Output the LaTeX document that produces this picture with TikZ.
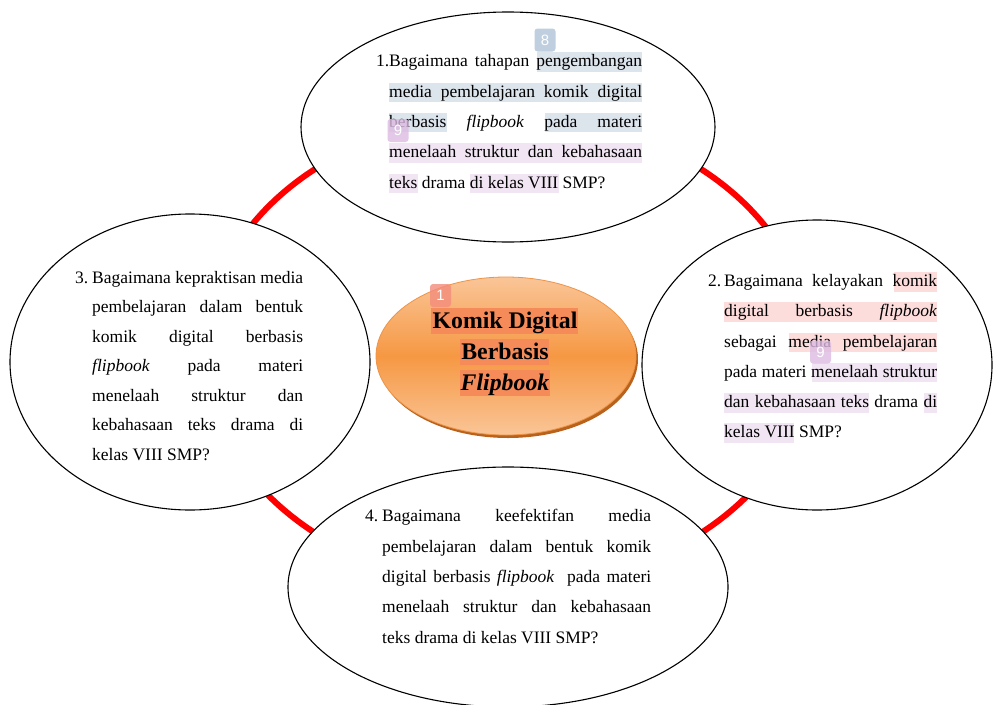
\documentclass[tikz,border=0pt]{standalone}
\usepackage{fontspec}
\setmainfont{Liberation Serif}
\newfontfamily\badgefont{Liberation Sans}
\usetikzlibrary{shapes.geometric}

\definecolor{ringred}{HTML}{FF0000}
\definecolor{hlblue}{HTML}{DCE4EC}
\definecolor{hllilac}{HTML}{F1E5F3}
\definecolor{hlrose}{HTML}{FDDCDC}
\definecolor{hlcore}{HTML}{F58B58}
\definecolor{badgeblue}{HTML}{AFC3D7}
\definecolor{badgelilac}{HTML}{DDBBE3}
\definecolor{badgered}{HTML}{F38C7C}
\definecolor{coreLight}{HTML}{FAC597}
\definecolor{coreMid}{HTML}{F69843}
\definecolor{coreEdge}{HTML}{EE9448}
\definecolor{coreShadow}{HTML}{B8621C}

% highlight strip behind a run of words: {colour}{x from}{x to}{baseline}
\newcommand{\hlrun}[4]{\fill[#1] (#2,#4-14.5) rectangle (#3,#4+5);}

\begin{document}
\begin{tikzpicture}[x=1pt,y=-1pt,
  bubble/.style={ellipse, draw=black, line width=1.1pt, fill=white, inner sep=0pt},
  qtext/.style={anchor=base west, inner sep=0pt, font=\fontsize{17.5}{21}\selectfont},
  coretext/.style={anchor=base, inner sep=0pt, font=\bfseries\fontsize{23.8}{28}\selectfont},
  badge/.style={rounded corners=3pt, fill=#1, fill opacity=0.8, text opacity=1,
    text=white, inner sep=0pt, minimum width=21pt, minimum height=23pt,
    font=\badgefont\fontsize{15}{15}\selectfont}]
\useasboundingbox (0,0) rectangle (993,704);

% red ring linking the four questions
\draw[ringred, line width=6pt] (508,351) ellipse [x radius=303, y radius=236];

% question bubbles
\node[bubble, minimum width=414pt, minimum height=230pt] (q1) at (508,127) {};
\node[bubble, minimum width=350pt, minimum height=290pt] (q2) at (817,365) {};
\node[bubble, minimum width=360pt, minimum height=296pt] (q3) at (190,362) {};
\node[bubble, minimum width=440pt, minimum height=240pt] (q4) at (508,587) {};

% central topic
\node[ellipse, fill=coreShadow, inner sep=0pt, minimum width=260pt, minimum height=158pt] (coreshadow) at (508,359) {};
\node[ellipse, draw=coreEdge, line width=0.8pt, top color=coreLight, bottom color=coreLight,
  middle color=coreMid, inner sep=0pt, minimum width=260pt, minimum height=158pt] (core) at (506,356) {};

% highlights, question 1
\hlrun{hlblue}{537}{642}{66.7}
\hlrun{hlblue}{389}{642}{97}
\hlrun{hlblue}{389}{447}{127.3}
\hlrun{hlblue}{545}{642}{127.3}
\hlrun{hllilac}{389}{642}{157.6}
\hlrun{hllilac}{389}{418}{188}
\hlrun{hllilac}{470}{559}{188}

% highlights, question 2
\hlrun{hlrose}{894}{937}{286.7}
\hlrun{hlrose}{724}{937}{316.9}
\hlrun{hlrose}{789}{937}{347.1}
\hlrun{hllilac}{812}{937}{377.3}
\hlrun{hllilac}{724}{869}{407.5}
\hlrun{hllilac}{924}{937}{407.5}
\hlrun{hllilac}{724}{794}{437.7}

% highlights, central topic
\fill[hlcore] (431,308) rectangle (578,334);
\fill[hlcore] (460,339) rectangle (549,365);
\fill[hlcore] (460,370) rectangle (550,396);

% question 1
\node[qtext] (q1a) at (376,66.7) {\makebox[13pt][l]{1.}\makebox[253pt][s]{Bagaimana tahapan pengembangan}};
\node[qtext] (q1b) at (389,97) {\makebox[253pt][s]{media pembelajaran komik digital}};
\node[qtext] (q1c) at (389,127.3) {\makebox[253pt][s]{berbasis \textit{flipbook} pada materi}};
\node[qtext] (q1d) at (389,157.6) {\makebox[253pt][s]{menelaah struktur dan kebahasaan}};
\node[qtext] (q1e) at (389,188) {teks drama di kelas VIII SMP?};

% question 2
\node[qtext] (q2a) at (708,286.7) {\makebox[16pt][l]{2.}\makebox[213pt][s]{Bagaimana kelayakan komik}};
\node[qtext] (q2b) at (724,316.9) {\makebox[213pt][s]{digital berbasis \textit{flipbook}}};
\node[qtext] (q2c) at (724,347.1) {\makebox[213pt][s]{sebagai media pembelajaran}};
\node[qtext] (q2d) at (724,377.3) {\makebox[213pt][s]{pada materi menelaah struktur}};
\node[qtext] (q2e) at (724,407.5) {\makebox[213pt][s]{dan kebahasaan teks drama di}};
\node[qtext] (q2f) at (724,437.7) {kelas VIII SMP?};

% question 3
\node[qtext] (q3a) at (75,283) {\makebox[17pt][l]{3.}\makebox[211pt][s]{Bagaimana kepraktisan media}};
\node[qtext] (q3b) at (92,312.5) {\makebox[211pt][s]{pembelajaran dalam bentuk}};
\node[qtext] (q3c) at (92,342) {\makebox[211pt][s]{komik digital berbasis}};
\node[qtext] (q3d) at (92,371.5) {\makebox[211pt][s]{\textit{flipbook} pada materi}};
\node[qtext] (q3e) at (92,401) {\makebox[211pt][s]{menelaah struktur dan}};
\node[qtext] (q3f) at (92,430.5) {\makebox[211pt][s]{kebahasaan teks drama di}};
\node[qtext] (q3g) at (92,460) {kelas VIII SMP?};

% question 4
\node[qtext] (q4a) at (365,521.7) {\makebox[17pt][l]{4.}\makebox[269pt][s]{Bagaimana keefektifan media}};
\node[qtext] (q4b) at (382,552.1) {\makebox[269pt][s]{pembelajaran dalam bentuk komik}};
\node[qtext] (q4c) at (382,582.5) {\makebox[269pt][s]{digital berbasis \textit{flipbook}\ \ pada materi}};
\node[qtext] (q4d) at (382,612.9) {\makebox[269pt][s]{menelaah struktur dan kebahasaan}};
\node[qtext] (q4e) at (382,643.3) {teks drama di kelas VIII SMP?};

% central topic text
\node[coretext] (c1) at (505,328) {Komik Digital};
\node[coretext] (c2) at (505,359) {Berbasis};
\node[coretext] (c3) at (505,390) {\textit{Flipbook}};

% comment markers
\node[badge=badgeblue] (m8) at (545,40) {8};
\node[badge=badgelilac] (m9a) at (398,130.5) {9};
\node[badge=badgelilac] (m9b) at (820.5,352) {9};
\node[badge=badgered] (m1) at (440.5,295.5) {1};
\end{tikzpicture}
\end{document}
